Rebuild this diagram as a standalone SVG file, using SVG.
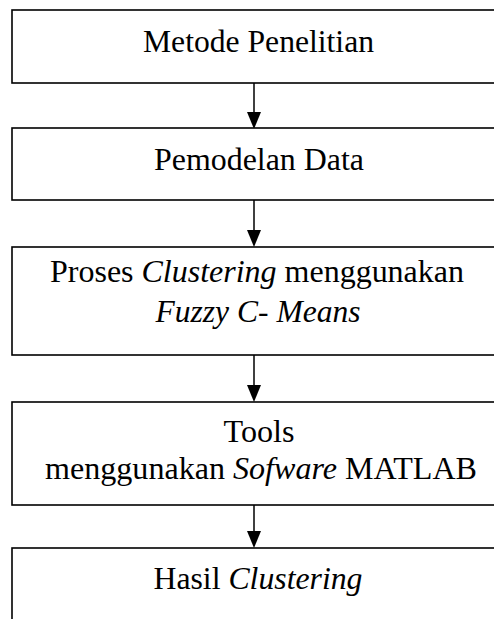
<svg xmlns="http://www.w3.org/2000/svg" width="494" height="619" viewBox="0 0 494 619">
<style>
.box{fill:#fff;stroke:#000;stroke-width:1.6}
.t{font-family:"Liberation Serif","Times New Roman",serif;font-size:31px;fill:#000;text-anchor:middle}
.i{font-style:italic}
.c{stroke:#000;stroke-width:1.5;fill:none}
</style>
<rect width="494" height="619" fill="#fff"/>
<g id="connectors">
<line class="c" x1="254" y1="83" x2="254" y2="112"/><polygon points="247,112 261,112 254,129"/>
<line class="c" x1="254" y1="200" x2="254" y2="230"/><polygon points="247,230 261,230 254,247"/>
<line class="c" x1="254" y1="355" x2="254" y2="385"/><polygon points="247,385 261,385 254,402"/>
<line class="c" x1="254" y1="505" x2="254" y2="531"/><polygon points="247,531 261,531 254,548"/>
</g>
<g id="n1"><rect class="box" x="12" y="10" width="486" height="73"/><text class="t" x="258.5" y="52" textLength="231" lengthAdjust="spacingAndGlyphs">Metode Penelitian</text></g>
<g id="n2"><rect class="box" x="12" y="128" width="486" height="72"/><text class="t" x="259" y="170" textLength="210" lengthAdjust="spacingAndGlyphs">Pemodelan Data</text></g>
<g id="n3"><rect class="box" x="12" y="247" width="486" height="108"/><text class="t" x="257" y="282" textLength="414" lengthAdjust="spacingAndGlyphs">Proses <tspan class="i">Clustering</tspan> menggunakan</text><text class="t i" x="258" y="322" textLength="205" lengthAdjust="spacingAndGlyphs">Fuzzy C- Means</text></g>
<g id="n4"><rect class="box" x="12" y="402" width="486" height="103"/><text class="t" x="259" y="442" textLength="71" lengthAdjust="spacingAndGlyphs">Tools</text><text class="t" x="261" y="479" textLength="432" lengthAdjust="spacingAndGlyphs">menggunakan <tspan class="i">Sofware</tspan> MATLAB</text></g>
<g id="n5"><rect class="box" x="12" y="548" width="486" height="100"/><text class="t" x="258" y="589" textLength="209" lengthAdjust="spacingAndGlyphs">Hasil <tspan class="i">Clustering</tspan></text></g>
</svg>
